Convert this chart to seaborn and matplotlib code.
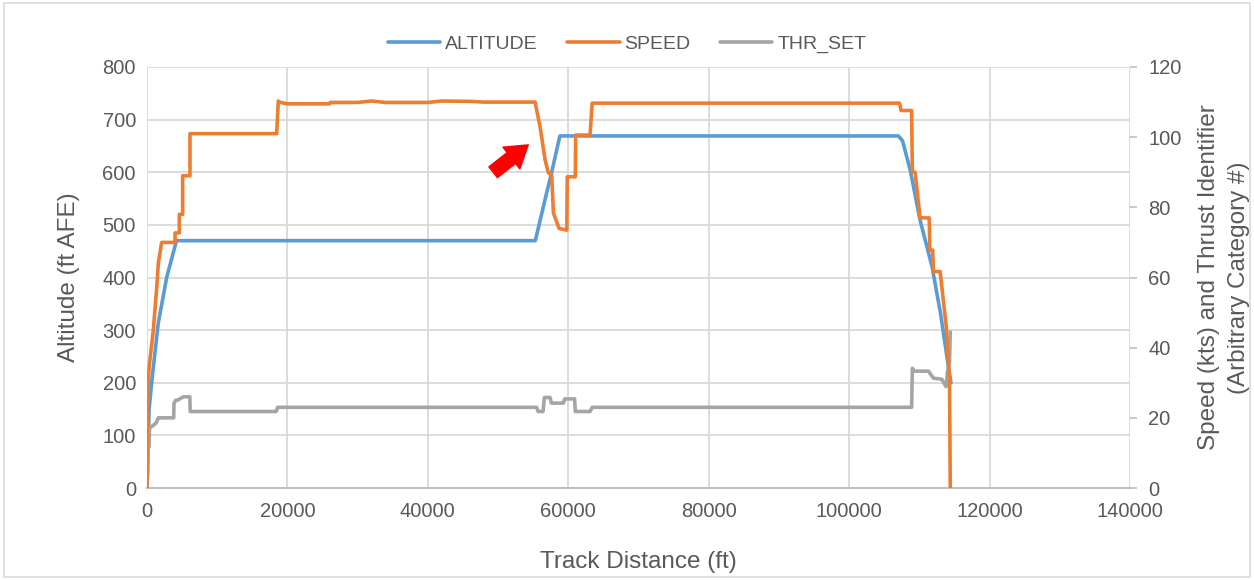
import matplotlib
matplotlib.use("Agg")
import matplotlib.pyplot as plt
from matplotlib.patches import Rectangle
import seaborn as sns
import pandas as pd

# ---------------- data ----------------
alt_dist = [0, 300, 700, 1600, 2800, 4200, 55300, 56000, 56900, 57600, 58800,
            107000, 107600, 108700, 110100, 111800, 113000, 114000, 114500]
altitude = [0, 150, 205, 313, 400, 470, 470, 509, 560, 598, 669,
            669, 660, 604, 509, 421, 333, 243, 200]

spd_dist = [0, 40, 330, 900, 1380, 1610, 2090, 4000, 4000, 4600, 4600, 5080, 5080,
            6120, 6120, 18470, 18700, 19000, 20000, 26000, 26100, 30000, 32000,
            34000, 40000, 42000, 46000, 48000, 55270, 55980, 56700, 57170, 57640,
            57880, 58690, 59790, 59850, 61000, 61050, 63100, 63400,
            107170, 107400, 108900, 109000, 109400, 110100, 111400, 111500,
            111900, 112000, 112960, 113830, 114000, 114300, 114400]
speed = [0, 26, 35, 45, 57, 64, 70, 70, 72.7, 72.7, 78, 78, 89,
         89, 101, 101, 110.3, 109.9, 109.5, 109.5, 109.9, 109.9, 110.3,
         109.9, 109.9, 110.3, 110.2, 110.0, 110.0, 103, 93.5, 89.8, 89.2,
         78.4, 74, 73.5, 88.7, 88.7, 100.6, 100.6, 109.7,
         109.7, 107.6, 107.6, 90.2, 90.0, 77, 77, 67.8,
         67.8, 61.7, 61.7, 46, 40, 30.8, 0]

thr_dist = [0, 100, 150, 300, 350, 650, 1300, 1600, 1900, 3800, 3850, 4100, 4300,
            5200, 6100, 6150, 18400, 18600, 55500, 55700, 56400, 56600, 57400,
            57600, 59300, 59500, 60900, 61000, 63100, 63400, 108900, 109000,
            109300, 111300, 112000, 113200, 113800, 114000, 114300, 114400]
thrust = [3, 4.3, 11.8, 11.8, 17, 17.5, 18.5, 20, 20, 20, 24.2, 25, 25,
          26, 26, 21.8, 21.8, 23, 23, 21.8, 21.8, 25.8, 25.8,
          24.2, 24.2, 25.4, 25.4, 21.8, 21.8, 23, 23, 34.1,
          33.3, 33.3, 31.3, 31, 28.9, 33, 36, 44.5]

x_ticks = [0, 20000, 40000, 60000, 80000, 100000, 120000, 140000]
y_left_ticks = [0, 100, 200, 300, 400, 500, 600, 700, 800]
y_right_ticks = [0, 20, 40, 60, 80, 100, 120]

# ---------------- style ----------------
sns.set_theme(style="white")
plt.rcParams["font.family"] = ["Liberation Sans", "DejaVu Sans"]
TXT = "#595959"
GRID = "#d9d9d9"
C_ALT, C_SPD, C_THR = "#5B9BD5", "#ED7D31", "#A5A5A5"

fig = plt.figure(figsize=(12.54, 5.8), dpi=100)
ax = fig.add_axes([147/1254, 1-488/580, (1130-147)/1254, (488-67)/580])
ax2 = ax.twinx()

df_alt = pd.DataFrame({"d": alt_dist, "v": altitude})
df_spd = pd.DataFrame({"d": spd_dist, "v": speed})
df_thr = pd.DataFrame({"d": thr_dist, "v": thrust})

sns.lineplot(data=df_alt, x="d", y="v", ax=ax, color=C_ALT, lw=2.6,
             sort=False, estimator=None, label="ALTITUDE", legend=False)
sns.lineplot(data=df_thr, x="d", y="v", ax=ax2, color=C_THR, lw=2.6,
             sort=False, estimator=None, label="THR_SET", legend=False)
sns.lineplot(data=df_spd, x="d", y="v", ax=ax2, color=C_SPD, lw=2.6,
             sort=False, estimator=None, label="SPEED", legend=False)

ax.set_xlim(0, 140000)
ax.set_ylim(0, 800)
ax2.set_ylim(0, 120)
ax.set_xticks(x_ticks)
ax.set_xticklabels([str(t) for t in x_ticks])
ax.set_yticks(y_left_ticks)
ax.set_yticklabels([str(t) for t in y_left_ticks])
ax2.set_yticks(y_right_ticks)
ax2.set_yticklabels([str(t) for t in y_right_ticks])

ax.grid(True, color=GRID, lw=1.3)
ax.set_axisbelow(True)
for a in (ax, ax2):
    for s in a.spines.values():
        s.set_visible(False)
ax.spines["bottom"].set_visible(True)
ax.spines["bottom"].set_color("#bfbfbf")
ax.spines["bottom"].set_linewidth(1.5)

ax.tick_params(axis="both", length=0, labelsize=14.5, colors=TXT, pad=8)
ax2.tick_params(axis="y", length=5, width=1.2, color="#bfbfbf", labelsize=14.5,
                colors=TXT, pad=8)
ax.tick_params(axis="x", pad=10)

ax.set_xlabel("Track Distance (ft)", fontsize=17.5, color=TXT, labelpad=22)
ax.set_ylabel("Altitude (ft AFE)", fontsize=17.5, color=TXT, labelpad=16)
ax2.set_ylabel("Speed (kts) and Thrust Identifier\n(Arbitrary Category #)",
               fontsize=17.5, color=TXT, labelpad=12, linespacing=1.45)

# red arrow annotation
ax.annotate("", xy=(54300, 652), xytext=(49300, 600),
            arrowprops=dict(arrowstyle="simple,head_length=0.7,head_width=0.9,tail_width=0.45",
                            color="red", mutation_scale=22, shrinkA=0, shrinkB=0))

# legend
h1, l1 = ax.get_legend_handles_labels()
h2, l2 = ax2.get_legend_handles_labels()
hd = dict(zip(l1 + l2, h1 + h2))
order = ["ALTITUDE", "SPEED", "THR_SET"]
fig.legend([hd[k] for k in order], order, loc="center", bbox_to_anchor=(0.5, 1-44/580),
           ncol=3, frameon=False, fontsize=14, labelcolor=TXT, handlelength=2.7,
           columnspacing=1.5, handletextpad=0.25)

# chart border
fig.patches.append(Rectangle((0.003, 0.005), 0.994, 0.99, transform=fig.transFigure,
                             fill=False, edgecolor=GRID, lw=1.2))

fig.savefig("out.png", dpi=100)
